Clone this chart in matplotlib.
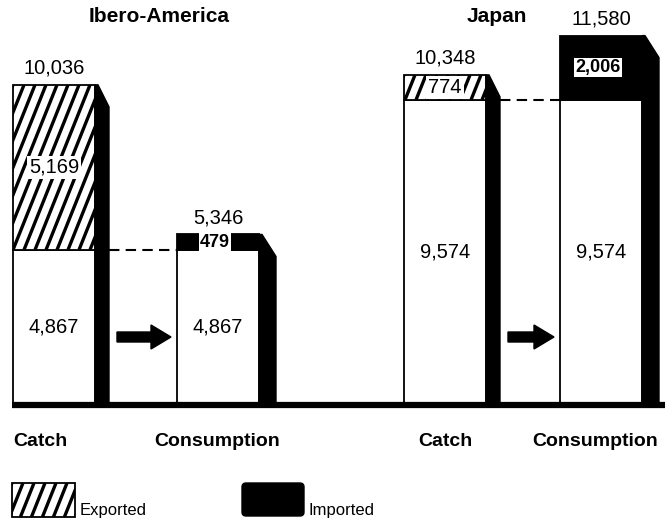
import numpy as np
import matplotlib.pyplot as plt
from matplotlib.patches import Rectangle, Polygon, FancyArrow, FancyBboxPatch
from matplotlib.collections import LineCollection

plt.rcParams['font.family'] = ['Liberation Sans', 'DejaVu Sans']

# fish catch and consumption, thousand tonnes
regions = ['Ibero-America', 'Japan']
categories = ['Catch', 'Consumption']
domestic = [4867, 9574]
exported = [5169, 774]
imported = [479, 2006]
catch_total = [10036, 10348]
consumption_total = [5346, 11580]

# layout (x in pixels, y scale in pixels per unit)
K = 0.0319
BASE = 405
W = 82
catch_left = [13, 404]
cons_left = [177, 560]
title_x = [159, 497]
catch_label_x = [40, 445]
cons_label_x = [217, 595]
SW_CATCH, SW_CONS = 14, 17


def ypx(p):
    # pixel row -> data y
    return (BASE - p) / K


fig = plt.figure(figsize=(6.7, 5.24), dpi=100)
ax = fig.add_axes([0, 0, 1, 1])
ax.set_xlim(0, 670)
ax.set_ylim(ypx(524), ypx(0))
ax.axis('off')


def shadow(xr, top, sw):
    drop = 22 / K
    pts = [(xr, top), (xr + 3, top), (xr + sw, top - drop), (xr + sw, 0), (xr, 0)]
    ax.add_patch(Polygon(pts, closed=True, fc='black', ec='black', lw=1, zorder=3))


def hatched(x0, x1, y0, y1, spacing=11, lean=0.4, z=2):
    rect = Rectangle((x0, y0), x1 - x0, y1 - y0, fc='white', ec='none', zorder=z)
    ax.add_patch(rect)
    h = (y1 - y0) * K
    segs = [[(xs, y0), (xs + h * lean, y1)]
            for xs in np.arange(x0 - h * lean, x1 + spacing, spacing)]
    lc = LineCollection(segs, colors='black', linewidths=2.4, zorder=z)
    ax.add_collection(lc)
    lc.set_clip_path(rect)
    ax.add_patch(Rectangle((x0, y0), x1 - x0, y1 - y0, fc='none', ec='black', lw=1.3, zorder=z))


val_font = dict(fontsize=14.5, ha='center', va='center', zorder=6)
box = dict(boxstyle='square,pad=0.1', fc='white', ec='none')

for i in range(2):
    # catch bar: domestic part + exported part
    xl = catch_left[i]
    xr = xl + W
    ax.add_patch(Rectangle((xl, 0), W, domestic[i], fc='white', ec='black', lw=1.3, zorder=2))
    hatched(xl, xr, domestic[i], domestic[i] + exported[i])
    shadow(xr, catch_total[i], SW_CATCH)
    ax.text((xl + xr) / 2, domestic[i] / 2, f'{domestic[i]:,}', **val_font)
    ax.text((xl + xr) / 2, domestic[i] + exported[i] / 2, f'{exported[i]:,}', bbox=box, **val_font)
    ax.annotate(f'{catch_total[i]:,}', ((xl + xr) / 2, catch_total[i]), xytext=(0, 5),
                textcoords='offset points', ha='center', va='bottom', fontsize=14.5)
    ax.text(catch_label_x[i], ypx(441), categories[0], ha='center', va='center',
            fontsize=14, fontweight='bold')

    # consumption bar: domestic part + imported part
    cl = cons_left[i]
    cr = cl + W
    ax.add_patch(Rectangle((cl, 0), W, domestic[i], fc='white', ec='black', lw=1.3, zorder=2))
    ax.add_patch(Rectangle((cl, domestic[i]), W, imported[i], fc='black', ec='black', lw=1.3, zorder=2))
    shadow(cr, consumption_total[i], SW_CONS)
    ax.text((cl + cr) / 2, domestic[i] / 2, f'{domestic[i]:,}', **val_font)
    ax.text((cl + cr) / 2 - 3, domestic[i] + imported[i] / 2, f'{imported[i]:,}',
            bbox=dict(boxstyle='square,pad=0.05', fc='white', ec='none'),
            fontsize=13, fontweight='bold', ha='center', va='center', zorder=6)
    ax.annotate(f'{consumption_total[i]:,}', ((cl + cr) / 2, consumption_total[i]), xytext=(0, 5),
                textcoords='offset points', ha='center', va='bottom', fontsize=14.5)
    ax.text(cons_label_x[i], ypx(441), categories[1], ha='center', va='center',
            fontsize=14, fontweight='bold')

    # dashed link and arrow between the bars
    ax.plot([xr + SW_CATCH, cl], [domestic[i], domestic[i]], color='black', lw=1.5,
            ls=(0, (5, 3)), zorder=1)
    ax.add_patch(FancyArrow(xr + SW_CATCH + 8, ypx(337), cl - xr - SW_CATCH - 14, 0,
                            width=10 / K, head_width=24 / K, head_length=20,
                            length_includes_head=True, fc='black', ec='black', zorder=4))

    ax.text(title_x[i], ypx(17), regions[i], ha='center', va='center',
            fontsize=15, fontweight='bold')

# ground line
ax.plot([12, 665], [0, 0], color='black', lw=4.5, solid_capstyle='butt', zorder=5)

# legend
hatched(12, 75, ypx(517), ypx(483))
ax.text(80, ypx(510), 'Exported', ha='left', va='center', fontsize=12)
ax.add_patch(FancyBboxPatch((242, ypx(516)), 62, ypx(483) - ypx(516),
                            boxstyle='round,pad=0,rounding_size=4', fc='black', ec='black',
                            mutation_aspect=1 / K))
ax.text(309, ypx(510), 'Imported', ha='left', va='center', fontsize=12)

fig.savefig('out.png', dpi=100, facecolor='white')
